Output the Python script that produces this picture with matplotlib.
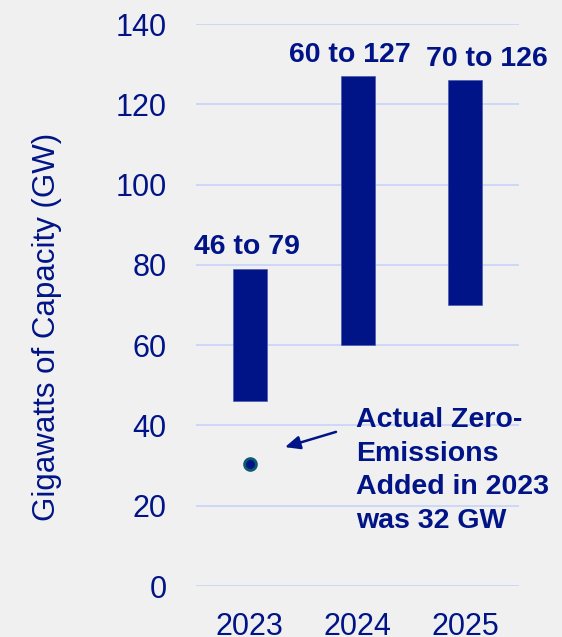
import matplotlib
matplotlib.use("Agg")
import matplotlib.pyplot as plt

years = ["2023", "2024", "2025"]
low = [46, 60, 70]
high = [79, 127, 126]
bar_labels = ["46 to 79", "60 to 127", "70 to 126"]
actual_2023 = 30.4
yticks = [0, 20, 40, 60, 80, 100, 120, 140]

navy = "#001487"
bg = "#f0f0f0"
grid_c = "#c8d2fa"

plt.rcParams['font.family'] = ['Liberation Sans', 'DejaVu Sans']

fig = plt.figure(figsize=(5.62, 6.37), dpi=100, facecolor=bg)
ax = fig.add_axes([0.3488, 0.080, 0.5747, 0.8823], facecolor=bg)

x = list(range(len(years)))
heights = [h - l for h, l in zip(high, low)]
ax.bar(x, heights, bottom=low, width=0.316, color=navy, edgecolor="#4a5ab0", linewidth=0.5, zorder=3)

ax.plot([0], [actual_2023], marker="o", markersize=8.5, markerfacecolor=navy,
        markeredgecolor="#0b5a6e", markeredgewidth=2, linestyle="none", zorder=4)

label_pos = [(-0.03, 82.7), (0.93, 130.5), (2.205, 129.5)]
for (lx, ly), t in zip(label_pos, bar_labels):
    ax.text(lx, ly, t, ha="center", va="baseline", fontsize=20.5, fontweight="bold", color=navy)

ax.annotate("", xy=(0.326, 34.6), xytext=(0.80, 38.4),
            arrowprops=dict(arrowstyle="-|>,head_length=0.9,head_width=0.4", color=navy,
                            lw=1.8, mutation_scale=10, shrinkA=0, shrinkB=0))
ax.text(0.985, 44.6, "Actual Zero-\nEmissions\nAdded in 2023\nwas 32 GW", ha="left", va="top",
        fontsize=20.5, fontweight="bold", color=navy, linespacing=1.38)

ax.set_xlim(-0.5, 2.5)
ax.set_ylim(0, 140)
ax.set_yticks(yticks)
ax.set_xticks(x)
ax.set_xticklabels(years)
ax.tick_params(axis="both", length=0, labelsize=22, labelcolor=navy)
ax.tick_params(axis="y", pad=21)
ax.tick_params(axis="x", pad=19)
ax.grid(axis="y", color=grid_c, linewidth=1.2, zorder=0)
ax.set_axisbelow(True)
for s in ax.spines.values():
    s.set_visible(False)

ax.set_ylabel("Gigawatts of Capacity (GW)", fontsize=22.5, color=navy)
ax.yaxis.set_label_coords(-0.415, 0.461)

for lab in ax.get_yticklabels() + ax.get_xticklabels():
    lab.set_clip_on(False)

fig.savefig("out.png", dpi=100, facecolor=bg)
